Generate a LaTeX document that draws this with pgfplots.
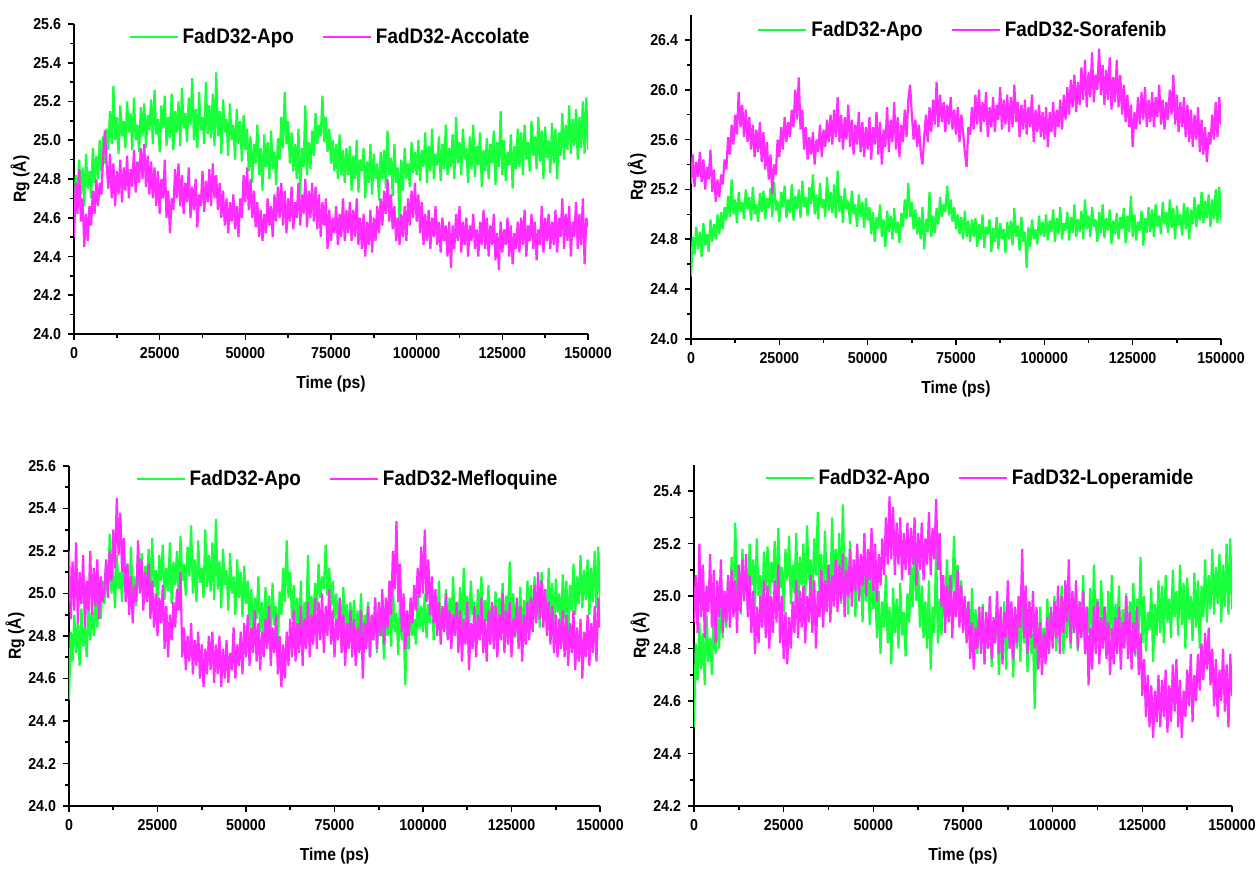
\documentclass[border=0pt]{standalone}
\usepackage{fontspec}
\setmainfont{Liberation Sans}[FakeStretch=0.9]
\usepackage{pgfplots}
\usepackage{pgfplotstable}
\pgfplotsset{compat=1.18}
\definecolor{apogreen}{RGB}{25,255,60}
\definecolor{ligmag}{RGB}{255,45,255}

% FadD32-Apo, one value every 500 ps (same run in all four panels)
\pgfplotstableread[row sep=\\,header=false]{
24.50\\24.82\\24.68\\24.90\\24.72\\24.86\\24.66\\24.93\\24.75\\24.84\\24.70\\24.96\\24.78\\24.92\\24.80\\25.00\\24.84\\25.02\\24.88\\25.06\\
24.95\\25.15\\24.98\\25.28\\25.00\\25.12\\24.93\\25.18\\25.02\\25.10\\24.96\\25.20\\25.04\\25.14\\24.95\\25.22\\25.00\\25.08\\24.94\\25.17\\
25.02\\25.19\\24.96\\25.13\\25.05\\25.21\\24.98\\25.26\\25.03\\25.11\\24.94\\25.18\\25.06\\25.23\\24.97\\25.12\\25.01\\25.24\\24.95\\25.15\\
25.04\\25.20\\24.97\\25.27\\25.06\\25.14\\24.99\\25.22\\25.08\\25.32\\25.00\\25.16\\24.96\\25.25\\25.05\\25.12\\24.98\\25.30\\25.03\\25.18\\
25.01\\25.24\\24.97\\25.35\\25.02\\25.15\\24.93\\25.21\\25.04\\25.11\\24.92\\25.19\\25.00\\25.08\\24.90\\25.16\\24.98\\25.10\\24.89\\25.13\\
24.95\\25.06\\24.84\\25.02\\24.78\\24.98\\24.88\\25.08\\24.82\\24.96\\24.74\\25.03\\24.86\\24.99\\24.80\\25.05\\24.85\\24.94\\24.77\\25.01\\
24.90\\25.12\\24.96\\25.25\\24.98\\25.10\\24.88\\25.04\\24.84\\24.98\\24.80\\25.06\\24.72\\24.96\\24.86\\25.18\\24.82\\24.99\\24.85\\25.05\\
24.92\\25.14\\24.98\\25.08\\25.02\\25.23\\24.99\\25.12\\24.94\\25.06\\24.88\\25.00\\24.84\\24.98\\24.80\\25.03\\24.82\\24.95\\24.78\\24.96\\
24.82\\24.97\\24.74\\24.92\\24.80\\25.00\\24.73\\24.90\\24.84\\24.96\\24.70\\24.89\\24.78\\24.98\\24.72\\24.93\\24.80\\24.88\\24.69\\24.94\\
24.80\\24.95\\24.75\\25.05\\24.82\\24.91\\24.71\\24.98\\24.78\\24.86\\24.57\\24.90\\24.74\\24.96\\24.80\\24.88\\24.76\\24.99\\24.83\\24.94\\
24.82\\25.00\\24.79\\24.95\\24.86\\25.04\\24.78\\24.97\\24.84\\25.06\\24.80\\24.93\\24.87\\25.02\\24.79\\24.98\\24.85\\25.08\\24.82\\24.96\\
24.86\\25.03\\24.80\\25.12\\24.88\\24.99\\24.82\\25.06\\24.90\\24.96\\24.78\\25.02\\24.85\\25.08\\24.81\\24.97\\24.87\\25.04\\24.76\\24.95\\
24.84\\25.01\\24.80\\24.98\\24.88\\25.05\\24.77\\24.99\\24.86\\25.15\\24.82\\25.00\\24.79\\24.94\\24.87\\25.03\\24.75\\24.97\\24.85\\25.06\\
24.86\\25.04\\24.82\\25.08\\24.90\\24.99\\24.84\\25.10\\24.92\\25.02\\24.85\\25.12\\24.89\\25.05\\24.80\\25.07\\24.91\\25.00\\24.83\\25.09\\
24.88\\25.06\\24.80\\25.04\\24.92\\25.14\\24.90\\25.08\\24.95\\25.18\\24.93\\25.11\\24.97\\25.16\\24.90\\25.12\\24.96\\25.20\\24.93\\25.22\\
24.95\\
}\apo

% FadD32-Accolate
\pgfplotstableread[row sep=\\,header=false]{
24.50\\24.78\\24.62\\24.85\\24.58\\24.70\\24.45\\24.62\\24.48\\24.66\\24.56\\24.74\\24.62\\24.80\\24.66\\24.78\\24.72\\24.92\\25.05\\24.88\\
24.75\\24.93\\24.70\\24.88\\24.66\\24.84\\24.72\\24.90\\24.68\\24.86\\24.74\\24.92\\24.70\\24.85\\24.76\\24.95\\24.73\\24.89\\24.78\\24.96\\
24.80\\24.98\\24.76\\24.92\\24.72\\24.89\\24.70\\24.86\\24.66\\24.84\\24.62\\24.80\\24.70\\24.90\\24.60\\24.74\\24.52\\24.70\\24.64\\24.85\\
24.70\\24.88\\24.66\\24.82\\24.62\\24.78\\24.68\\24.86\\24.60\\24.76\\24.64\\24.80\\24.55\\24.72\\24.66\\24.84\\24.63\\24.79\\24.68\\24.85\\
24.66\\24.88\\24.70\\24.82\\24.64\\24.78\\24.60\\24.74\\24.56\\24.70\\24.52\\24.68\\24.58\\24.72\\24.54\\24.66\\24.50\\24.70\\24.60\\24.82\\
24.68\\24.86\\24.64\\24.80\\24.60\\24.74\\24.55\\24.68\\24.50\\24.64\\24.48\\24.62\\24.52\\24.70\\24.56\\24.66\\24.50\\24.72\\24.58\\24.76\\
24.60\\24.78\\24.56\\24.74\\24.52\\24.70\\24.58\\24.76\\24.54\\24.68\\24.60\\24.78\\24.56\\24.72\\24.62\\24.80\\24.55\\24.74\\24.60\\24.78\\
24.58\\24.76\\24.54\\24.72\\24.50\\24.68\\24.56\\24.70\\24.44\\24.64\\24.48\\24.60\\24.52\\24.66\\24.46\\24.62\\24.50\\24.70\\24.48\\24.64\\
24.52\\24.68\\24.48\\24.64\\24.50\\24.70\\24.46\\24.60\\24.44\\24.62\\24.40\\24.58\\24.46\\24.64\\24.42\\24.60\\24.48\\24.66\\24.52\\24.70\\
24.56\\24.74\\24.62\\24.80\\24.58\\24.72\\24.54\\24.66\\24.48\\24.60\\24.46\\24.62\\24.50\\24.66\\24.48\\24.70\\24.56\\24.74\\24.60\\24.78\\
24.58\\24.72\\24.52\\24.68\\24.46\\24.62\\24.48\\24.64\\24.44\\24.60\\24.50\\24.66\\24.46\\24.58\\24.42\\24.60\\24.48\\24.56\\24.40\\24.58\\
24.34\\24.56\\24.44\\24.62\\24.48\\24.66\\24.42\\24.58\\24.46\\24.60\\24.40\\24.56\\24.48\\24.62\\24.44\\24.54\\24.40\\24.58\\24.46\\24.64\\
24.44\\24.60\\24.40\\24.56\\24.46\\24.62\\24.38\\24.52\\24.33\\24.58\\24.42\\24.54\\24.46\\24.60\\24.40\\24.56\\24.36\\24.52\\24.44\\24.58\\
24.42\\24.60\\24.46\\24.64\\24.40\\24.56\\24.48\\24.62\\24.44\\24.58\\24.38\\24.54\\24.46\\24.66\\24.42\\24.60\\24.48\\24.62\\24.44\\24.58\\
24.46\\24.64\\24.42\\24.60\\24.50\\24.70\\24.44\\24.62\\24.48\\24.66\\24.40\\24.58\\24.50\\24.68\\24.44\\24.62\\24.46\\24.70\\24.36\\24.60\\
24.55\\
}\acco

% FadD32-Sorafenib
\pgfplotstableread[row sep=\\,header=false]{
25.25\\25.48\\25.22\\25.42\\25.30\\25.50\\25.26\\25.44\\25.20\\25.38\\25.28\\25.52\\25.18\\25.36\\25.10\\25.28\\25.14\\25.32\\25.24\\25.44\\
25.36\\25.62\\25.48\\25.72\\25.56\\25.80\\25.64\\25.98\\25.70\\25.88\\25.62\\25.84\\25.58\\25.78\\25.52\\25.72\\25.46\\25.68\\25.50\\25.74\\
25.42\\25.66\\25.36\\25.58\\25.28\\25.48\\25.16\\25.40\\25.32\\25.60\\25.46\\25.70\\25.52\\25.78\\25.58\\25.74\\25.62\\25.84\\25.70\\26.00\\
25.76\\26.10\\25.68\\25.84\\25.52\\25.70\\25.44\\25.62\\25.48\\25.66\\25.40\\25.60\\25.50\\25.72\\25.46\\25.68\\25.54\\25.76\\25.58\\25.80\\
25.56\\25.84\\25.62\\25.94\\25.58\\25.80\\25.52\\25.78\\25.60\\25.88\\25.54\\25.76\\25.48\\25.72\\25.56\\25.82\\25.50\\25.74\\25.46\\25.70\\
25.52\\25.78\\25.44\\25.70\\25.56\\25.82\\25.48\\25.74\\25.40\\25.68\\25.54\\25.86\\25.50\\25.76\\25.58\\25.90\\25.52\\25.78\\25.46\\25.72\\
25.58\\25.84\\25.62\\25.92\\26.04\\25.80\\25.60\\25.76\\25.54\\25.72\\25.50\\25.40\\25.62\\25.80\\25.58\\25.86\\25.66\\25.92\\25.72\\26.06\\
25.70\\25.96\\25.74\\25.90\\25.66\\25.88\\25.72\\25.94\\25.68\\25.84\\25.64\\25.86\\25.58\\25.80\\25.66\\25.50\\25.38\\25.70\\25.64\\25.86\\
25.68\\25.96\\25.72\\26.00\\25.66\\25.90\\25.74\\25.98\\25.62\\25.86\\25.70\\25.94\\25.66\\25.88\\25.76\\26.02\\25.68\\25.92\\25.72\\25.96\\
25.66\\25.94\\25.70\\26.04\\25.74\\25.90\\25.62\\25.88\\25.68\\25.92\\25.64\\25.86\\25.70\\25.96\\25.58\\25.84\\25.66\\25.88\\25.62\\25.82\\
25.60\\25.86\\25.54\\25.82\\25.66\\25.90\\25.62\\25.84\\25.70\\25.92\\25.68\\25.96\\25.76\\26.02\\25.80\\26.08\\25.86\\26.12\\25.82\\26.06\\
25.88\\26.18\\25.92\\26.24\\25.86\\26.14\\25.94\\26.30\\25.90\\26.12\\26.00\\26.33\\25.96\\26.20\\25.88\\26.16\\25.92\\26.26\\25.84\\26.10\\
25.90\\26.24\\25.86\\26.12\\25.80\\26.04\\25.74\\25.96\\25.70\\25.88\\25.54\\25.82\\25.68\\25.94\\25.72\\25.98\\25.76\\26.02\\25.70\\25.92\\
25.74\\25.98\\25.70\\25.94\\25.78\\26.04\\25.72\\25.92\\25.68\\25.90\\25.76\\26.00\\25.80\\26.12\\25.72\\25.96\\25.66\\25.90\\25.70\\25.94\\
25.62\\25.88\\25.58\\25.84\\25.54\\25.80\\25.60\\25.86\\25.50\\25.76\\25.48\\25.70\\25.42\\25.66\\25.56\\25.80\\25.60\\25.90\\25.62\\25.94\\
25.72\\
}\sora

% FadD32-Mefloquine
\pgfplotstableread[row sep=\\,header=false]{
25.20\\24.88\\25.15\\24.92\\25.24\\24.86\\25.10\\24.95\\25.18\\24.84\\25.06\\24.92\\25.20\\24.90\\25.12\\24.94\\25.16\\24.88\\25.08\\24.96\\
25.02\\25.16\\24.98\\25.20\\25.06\\25.30\\25.12\\25.45\\25.18\\25.38\\25.10\\25.26\\24.96\\25.14\\24.90\\25.08\\24.86\\25.04\\24.96\\25.25\\
25.00\\25.16\\24.92\\25.10\\24.96\\25.14\\24.88\\25.06\\24.84\\25.00\\24.80\\24.98\\24.86\\25.04\\24.74\\24.94\\24.70\\24.90\\24.78\\24.96\\
24.84\\25.02\\24.92\\25.10\\24.70\\24.84\\24.64\\24.80\\24.68\\24.86\\24.62\\24.78\\24.66\\24.82\\24.60\\24.76\\24.56\\24.74\\24.62\\24.80\\
24.64\\24.82\\24.58\\24.76\\24.62\\24.80\\24.56\\24.74\\24.60\\24.78\\24.58\\24.72\\24.64\\24.84\\24.60\\24.76\\24.66\\24.82\\24.62\\24.86\\
24.70\\24.90\\24.66\\24.84\\24.72\\24.92\\24.68\\24.86\\24.64\\24.82\\24.70\\24.88\\24.74\\24.94\\24.66\\24.84\\24.72\\24.90\\24.62\\24.80\\
24.56\\24.76\\24.60\\24.82\\24.66\\24.88\\24.70\\24.92\\24.68\\24.86\\24.72\\24.94\\24.66\\24.88\\24.74\\24.96\\24.70\\24.90\\24.76\\24.98\\
24.74\\24.96\\24.78\\25.00\\24.72\\24.94\\24.80\\25.02\\24.76\\24.92\\24.70\\24.88\\24.78\\24.98\\24.72\\24.90\\24.66\\24.86\\24.74\\24.92\\
24.70\\24.88\\24.66\\24.84\\24.72\\24.92\\24.60\\24.86\\24.74\\24.94\\24.70\\24.90\\24.78\\24.98\\24.74\\24.96\\24.80\\25.02\\24.76\\24.98\\
24.84\\25.06\\24.90\\25.20\\25.02\\25.34\\24.96\\25.14\\24.82\\25.00\\24.74\\24.92\\24.80\\24.98\\24.86\\25.04\\24.92\\25.12\\24.98\\25.22\\
25.00\\25.30\\24.96\\25.16\\24.90\\25.08\\24.86\\25.02\\24.80\\24.96\\24.76\\24.94\\24.82\\25.00\\24.78\\24.92\\24.74\\24.90\\24.80\\24.96\\
24.72\\24.92\\24.68\\24.88\\24.76\\24.96\\24.64\\24.86\\24.74\\24.94\\24.70\\24.90\\24.78\\24.98\\24.72\\24.88\\24.68\\24.92\\24.76\\24.96\\
24.74\\24.94\\24.70\\24.90\\24.78\\25.00\\24.72\\24.92\\24.76\\24.96\\24.70\\24.88\\24.80\\24.98\\24.74\\24.94\\24.68\\24.90\\24.76\\24.96\\
24.78\\24.98\\24.82\\25.04\\24.86\\25.10\\24.88\\25.06\\24.84\\25.02\\24.80\\24.96\\24.76\\24.94\\24.72\\24.90\\24.70\\24.88\\24.74\\24.92\\
24.70\\24.90\\24.66\\24.86\\24.72\\24.92\\24.64\\24.84\\24.68\\24.88\\24.60\\24.82\\24.70\\24.90\\24.66\\24.86\\24.72\\24.94\\24.68\\24.98\\
24.84\\
}\meflo

% FadD32-Loperamide
\pgfplotstableread[row sep=\\,header=false]{
24.90\\25.08\\24.86\\25.20\\24.92\\25.12\\24.84\\25.04\\24.94\\25.16\\24.88\\25.10\\24.82\\25.06\\24.92\\25.14\\24.86\\25.02\\24.90\\25.08\\
24.88\\25.10\\24.92\\25.06\\24.86\\25.12\\24.94\\25.14\\24.98\\25.16\\24.92\\25.08\\24.86\\25.02\\24.78\\24.96\\24.82\\25.00\\24.88\\25.06\\
24.84\\25.04\\24.80\\25.00\\24.86\\25.06\\24.90\\25.12\\24.82\\25.00\\24.76\\24.94\\24.74\\24.92\\24.80\\24.98\\24.86\\25.06\\24.84\\25.02\\
24.88\\25.04\\24.82\\25.00\\24.90\\25.08\\24.86\\25.06\\24.80\\25.02\\24.92\\25.10\\24.88\\25.06\\24.94\\25.12\\24.90\\25.08\\24.96\\25.14\\
24.94\\25.12\\24.98\\25.16\\24.92\\25.10\\25.00\\25.18\\24.96\\25.14\\25.02\\25.20\\24.98\\25.16\\25.04\\25.24\\25.00\\25.18\\25.06\\25.26\\
25.02\\25.20\\24.98\\25.16\\25.04\\25.22\\25.08\\25.30\\25.12\\25.38\\25.14\\25.34\\25.08\\25.28\\25.12\\25.30\\25.06\\25.24\\25.10\\25.28\\
25.08\\25.26\\25.12\\25.30\\25.04\\25.24\\25.10\\25.28\\25.06\\25.22\\25.12\\25.32\\25.08\\25.26\\25.14\\25.37\\25.10\\25.24\\24.96\\25.08\\
24.86\\25.04\\24.90\\25.08\\24.84\\25.02\\24.92\\25.10\\24.88\\25.04\\24.86\\25.00\\24.82\\24.98\\24.76\\24.90\\24.72\\24.88\\24.80\\24.96\\
24.78\\24.96\\24.74\\24.94\\24.80\\25.00\\24.76\\24.92\\24.82\\25.02\\24.78\\24.96\\24.74\\24.94\\24.84\\25.06\\24.80\\24.98\\24.76\\24.96\\
24.82\\25.00\\24.88\\25.18\\24.84\\25.04\\24.78\\24.98\\24.84\\25.02\\24.80\\24.96\\24.72\\24.90\\24.70\\24.86\\24.74\\24.92\\24.78\\24.96\\
24.80\\24.98\\24.84\\25.04\\24.78\\25.00\\24.86\\25.06\\24.90\\25.14\\24.82\\25.02\\24.86\\25.06\\24.80\\24.98\\24.84\\25.02\\24.78\\24.96\\
24.66\\24.88\\24.72\\24.96\\24.78\\24.98\\24.74\\24.92\\24.80\\24.96\\24.76\\24.90\\24.70\\24.88\\24.74\\24.92\\24.78\\24.96\\24.72\\24.90\\
24.80\\25.00\\24.76\\24.94\\24.72\\24.90\\24.78\\24.96\\24.70\\24.86\\24.62\\24.76\\24.54\\24.70\\24.50\\24.66\\24.46\\24.64\\24.52\\24.70\\
24.50\\24.68\\24.54\\24.72\\24.48\\24.66\\24.52\\24.74\\24.56\\24.76\\24.50\\24.68\\24.46\\24.64\\24.54\\24.72\\24.58\\24.78\\24.52\\24.70\\
24.60\\24.78\\24.64\\24.82\\24.68\\24.86\\24.72\\24.88\\24.66\\24.80\\24.58\\24.76\\24.54\\24.72\\24.60\\24.80\\24.56\\24.74\\24.50\\24.78\\
24.62\\
}\lope

\pgfplotsset{
  rgaxis/.style={
    scale only axis,
    anchor=south west,
    xmin=0, xmax=150000,
    xtick={0,25000,50000,75000,100000,125000,150000},
    minor x tick num=1,
    minor y tick num=1,
    axis x line*=bottom,
    axis y line*=left,
    axis line style={line width=0.9pt, black},
    tick align=outside,
    major tick length=3pt,
    minor tick length=2pt,
    tick style={black, line width=0.8pt},
    /pgf/number format/assume math mode=true,
    tick label style={font=\fontsize{7.9}{9}\selectfont\bfseries},
    xticklabel style={/pgf/number format/fixed, /pgf/number format/1000 sep={}},
    yticklabel style={/pgf/number format/fixed, /pgf/number format/fixed zerofill, /pgf/number format/precision=1},
    scaled x ticks=false,
    scaled y ticks=false,
    xlabel={Time (ps)},
    ylabel={Rg (Å)},
    label style={font=\fontsize{8.7}{10}\selectfont\bfseries},
    xlabel style={at={(axis description cs:0.5,0)}, anchor=center, yshift=-25pt},
    ylabel style={at={(axis description cs:0,0.5)}, anchor=center, yshift=27pt},
    legend columns=2,
    legend style={draw=none, fill=none, at={(0.5,1)}, anchor=north, inner sep=0pt,
      font=\fontsize{10.5}{12}\selectfont\bfseries,
      /tikz/every even column/.append style={column sep=12pt}},
    legend image code/.code={\draw[#1, line width=1pt] (0pt,0pt) -- (24pt,0pt);},
  },
  rgplot/.style={line width=1.1pt, line join=bevel},
}

\begin{document}
\begin{tikzpicture}
\path[use as bounding box] (0,0) rectangle (628.5pt,435.5pt);

% top left
\begin{axis}[rgaxis, at={(37pt,268.5pt)}, width=257pt, height=155pt,
  ymin=24, ymax=25.6, ytick={24,24.2,24.4,24.6,24.8,25,25.2,25.4,25.6}]
\addplot[rgplot, color=apogreen] table[x expr=\coordindex*500, y index=0] {\apo};
\addplot[rgplot, color=ligmag] table[x expr=\coordindex*500, y index=0] {\acco};
\legend{FadD32-Apo, FadD32-Accolate}
\end{axis}

% top right
\begin{axis}[rgaxis, at={(345.5pt,266pt)}, width=265pt, height=162pt,
  ymin=24, ymax=26.6, ytick={24,24.4,24.8,25.2,25.6,26,26.4},
  legend style={yshift=-1pt, xshift=4pt}]
\addplot[rgplot, color=apogreen] table[x expr=\coordindex*500, y index=0] {\apo};
\addplot[rgplot, color=ligmag] table[x expr=\coordindex*500, y index=0] {\sora};
\legend{FadD32-Apo, FadD32-Sorafenib}
\end{axis}

% bottom left
\begin{axis}[rgaxis, at={(34.5pt,32.5pt)}, width=265.5pt, height=170pt,
  ymin=24, ymax=25.6, ytick={24,24.2,24.4,24.6,24.8,25,25.2,25.4,25.6},
  legend style={xshift=7pt}]
\addplot[rgplot, color=apogreen] table[x expr=\coordindex*500, y index=0] {\apo};
\addplot[rgplot, color=ligmag] table[x expr=\coordindex*500, y index=0] {\meflo};
\legend{FadD32-Apo, FadD32-Mefloquine}
\end{axis}

% bottom right
\begin{axis}[rgaxis, at={(347pt,32.5pt)}, width=269pt, height=170.5pt,
  ymin=24.2, ymax=25.5, ytick={24.2,24.4,24.6,24.8,25,25.2,25.4},
  legend style={xshift=9pt}]
\addplot[rgplot, color=apogreen] table[x expr=\coordindex*500, y index=0] {\apo};
\addplot[rgplot, color=ligmag] table[x expr=\coordindex*500, y index=0] {\lope};
\legend{FadD32-Apo, FadD32-Loperamide}
\end{axis}
\end{tikzpicture}
\end{document}
